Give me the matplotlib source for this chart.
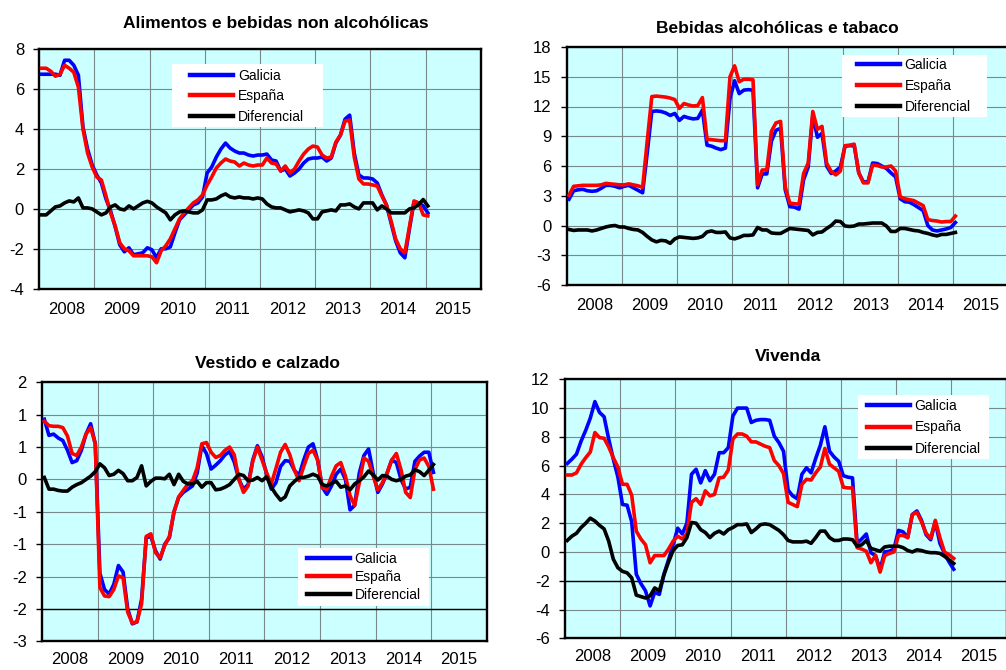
import numpy as np
import matplotlib
matplotlib.use('Agg')
import matplotlib.pyplot as plt
from matplotlib.patches import Rectangle
from matplotlib.ticker import FuncFormatter

plt.rcParams['font.family'] = ['Liberation Sans', 'DejaVu Sans']

years = ['2008', '2009', '2010', '2011', '2012', '2013', '2014', '2015']
names = ['Galicia', 'España', 'Diferencial']

# monthly series, Jan 2008 .. Jan 2015
alim_gal = [6.75, 6.75, 6.75, 6.75, 6.7, 7.45, 7.45, 7.2, 6.7, 4.1,
            3.0, 2.2, 1.7, 1.3, 0.5, -0.1, -0.9, -1.8, -2.15, -1.95,
            -2.3, -2.25, -2.2, -1.95, -2.05, -2.45, -2.0, -2.0, -1.9, -1.2,
            -0.55, -0.3, -0.05, 0.2, 0.3, 0.6, 1.8, 2.1, 2.6, 3.0,
            3.3, 3.05, 2.9, 2.8, 2.8, 2.7, 2.65, 2.7, 2.7, 2.75,
            2.45, 2.4, 1.9, 2.0, 1.65, 1.8, 2.0, 2.3, 2.5, 2.55,
            2.55, 2.6, 2.4, 2.55, 3.3, 3.7, 4.5, 4.7, 2.8, 1.7,
            1.55, 1.55, 1.5, 1.3, 0.7, 0.2, -0.7, -1.6, -2.2, -2.45,
            -1.0, 0.35, 0.3, 0.15, -0.2]
alim_esp = [7.05, 7.05, 6.9, 6.65, 6.75, 7.2, 7.05, 6.85, 6.1, 4.0,
            2.8, 2.1, 1.6, 1.45, 0.65, -0.2, -0.85, -1.7, -2.0, -2.1,
            -2.35, -2.35, -2.35, -2.35, -2.4, -2.7, -2.1, -1.85, -1.5, -1.0,
            -0.5, -0.2, 0.05, 0.3, 0.45, 0.7, 1.2, 1.6, 2.05, 2.3,
            2.5, 2.4, 2.35, 2.15, 2.3, 2.2, 2.15, 2.2, 2.2, 2.55,
            2.3, 2.25, 1.9, 2.15, 1.8, 2.0, 2.4, 2.75, 3.0, 3.15,
            3.1, 2.7, 2.55, 2.6, 3.35, 3.7, 4.4, 4.45, 2.6, 1.5,
            1.25, 1.25, 1.2, 1.15, 0.65, 0.2, -0.6, -1.5, -2.0, -2.2,
            -0.9, 0.4, 0.3, -0.3, -0.35]
alim_dif = [-0.3, -0.3, -0.1, 0.1, 0.15, 0.3, 0.4, 0.35, 0.55, 0.05,
            0.05, 0.0, -0.15, -0.3, -0.2, 0.1, 0.2, 0.0, -0.05, 0.15,
            0.0, 0.15, 0.3, 0.38, 0.3, 0.1, -0.05, -0.2, -0.55, -0.3,
            -0.15, -0.1, -0.15, -0.2, -0.2, -0.05, 0.45, 0.45, 0.5, 0.65,
            0.75, 0.6, 0.55, 0.6, 0.55, 0.55, 0.5, 0.55, 0.5, 0.25,
            0.1, 0.05, 0.05, -0.05, -0.15, -0.1, -0.05, -0.1, -0.2, -0.5,
            -0.5, -0.15, -0.1, -0.05, -0.1, 0.2, 0.2, 0.25, 0.1, 0.0,
            0.3, 0.3, 0.3, -0.05, 0.15, 0.0, -0.2, -0.2, -0.2, -0.2,
            0.0, 0.05, 0.22, 0.47, 0.15]

beb_gal = [2.65, 3.5, 3.6, 3.65, 3.5, 3.45, 3.5, 3.75, 4.05, 4.05,
           3.95, 3.8, 3.95, 4.05, 3.8, 3.55, 3.3, 7.3, 11.5, 11.55,
           11.5, 11.35, 11.1, 11.3, 10.6, 11.0, 10.85, 10.75, 10.8, 11.65,
           8.1, 8.0, 7.8, 7.65, 7.8, 12.8, 14.6, 13.3, 13.65, 13.7,
           13.65, 3.8, 5.2, 5.2, 8.5, 9.6, 9.8, 3.6, 1.9, 1.85,
           1.65, 4.6, 5.9, 11.1, 8.9, 9.3, 6.0, 5.25, 5.5, 5.9,
           8.0, 8.05, 8.05, 5.3, 4.4, 4.4, 6.3, 6.25, 6.0, 5.75,
           5.3, 4.9, 2.7, 2.4, 2.35, 2.1, 1.8, 1.5, 0.0, -0.45,
           -0.55, -0.45, -0.35, -0.2, 0.3]
beb_esp = [3.05, 3.95, 4.0, 4.05, 4.05, 4.05, 4.05, 4.1, 4.25, 4.2,
           4.15, 4.1, 4.1, 4.2, 4.1, 4.0, 3.85, 8.5, 13.0, 13.05,
           13.0, 12.95, 12.85, 12.7, 11.8, 12.3, 12.15, 12.05, 12.1, 12.9,
           8.7, 8.65, 8.6, 8.55, 8.55, 15.0, 16.1, 14.5, 14.75, 14.75,
           14.7, 4.1, 5.6, 5.6, 9.5, 10.35, 10.5, 3.9, 2.25, 2.2,
           2.15, 5.25, 6.3, 11.5, 9.7, 10.0, 6.3, 5.45, 5.1, 5.5,
           8.05, 8.1, 8.2, 5.3, 4.3, 4.3, 6.1, 6.05, 5.9, 5.9,
           6.0, 5.5, 2.9, 2.7, 2.6, 2.5, 2.25, 2.0, 0.6, 0.5,
           0.45, 0.35, 0.4, 0.4, 0.95]
beb_dif = [-0.4, -0.5, -0.45, -0.45, -0.45, -0.55, -0.45, -0.3, -0.15, -0.05,
           0.0, -0.15, -0.15, -0.3, -0.4, -0.45, -0.7, -1.1, -1.45, -1.65,
           -1.5, -1.55, -1.8, -1.35, -1.15, -1.2, -1.25, -1.3, -1.25, -1.1,
           -0.65, -0.55, -0.7, -0.7, -0.65, -1.25, -1.35, -1.2, -1.0, -1.0,
           -0.95, -0.2, -0.45, -0.45, -0.75, -0.8, -0.8, -0.55, -0.3, -0.35,
           -0.4, -0.45, -0.5, -0.95, -0.7, -0.65, -0.3, 0.0, 0.45, 0.4,
           -0.05, -0.1, -0.05, 0.15, 0.15, 0.2, 0.25, 0.25, 0.25, -0.05,
           -0.6, -0.6, -0.3, -0.3, -0.4, -0.5, -0.55, -0.7, -0.8, -0.95,
           -1.05, -0.9, -0.9, -0.8, -0.7]

vest_gal = [0.93, 0.68, 0.7, 0.64, 0.6, 0.45, 0.26, 0.29, 0.45, 0.7,
            0.86, 0.55, -1.45, -1.7, -1.77, -1.62, -1.33, -1.43, -2.0, -2.23,
            -2.2, -1.85, -0.9, -0.88, -1.1, -1.23, -1.0, -0.9, -0.5, -0.28,
            -0.2, -0.15, -0.1, 0.1, 0.52, 0.4, 0.16, 0.22, 0.29, 0.38,
            0.43, 0.27, 0.0, -0.15, -0.08, 0.3, 0.52, 0.35, 0.08, -0.15,
            -0.05, 0.2, 0.29, 0.28, 0.14, 0.06, 0.3, 0.5, 0.55, 0.3,
            -0.12, -0.23, -0.1, 0.08, 0.16, 0.0, -0.47, -0.4, 0.1, 0.37,
            0.47, 0.1, -0.2, -0.07, 0.1, 0.3, 0.26, 0.0, -0.15, -0.12,
            0.28, 0.36, 0.42, 0.42, 0.11]
vest_esp = [0.9, 0.83, 0.82, 0.82, 0.8, 0.67, 0.4, 0.37, 0.5, 0.7,
            0.8, 0.55, -1.67, -1.8, -1.81, -1.7, -1.49, -1.52, -2.05, -2.22,
            -2.2, -1.92, -0.88, -0.84, -1.13, -1.21, -1.02, -0.88, -0.5, -0.27,
            -0.17, -0.07, -0.02, 0.18, 0.55, 0.57, 0.42, 0.34, 0.37, 0.45,
            0.5, 0.38, 0.0, -0.2, -0.1, 0.28, 0.5, 0.3, 0.1, -0.07,
            0.17, 0.42, 0.54, 0.38, 0.14, -0.02, 0.2, 0.4, 0.45, 0.3,
            -0.13, -0.15, 0.05, 0.21, 0.26, 0.05, -0.25, -0.4, -0.05, 0.33,
            0.28, 0.05, -0.16, -0.05, 0.1, 0.3, 0.4, 0.15, -0.2, -0.28,
            0.15, 0.3, 0.33, 0.2, -0.15]
vest_dif = [0.03, -0.15, -0.15, -0.17, -0.18, -0.18, -0.12, -0.08, -0.05, 0.0,
            0.05, 0.12, 0.24, 0.18, 0.06, 0.08, 0.14, 0.09, -0.02, -0.02,
            0.03, 0.21, -0.1, -0.03, 0.02, 0.02, 0.01, 0.08, -0.08, 0.08,
            -0.03, -0.07, -0.07, -0.03, -0.12, -0.05, -0.05, -0.16, -0.15, -0.12,
            -0.08, 0.0, 0.08, 0.06, -0.02, -0.01, 0.03, -0.02, 0.04, -0.12,
            -0.23, -0.32, -0.27, -0.1, -0.03, 0.03, 0.03, 0.05, 0.08, 0.05,
            -0.08, -0.1, -0.06, -0.03, -0.12, -0.1, -0.16, -0.07, -0.02, 0.04,
            0.13, 0.07, -0.01, 0.06, 0.05, 0.0, -0.02, 0.0, 0.05, 0.07,
            0.15, 0.12, 0.06, 0.14, 0.23]

viv_gal = [6.15, 6.45, 6.8, 7.7, 8.45, 9.3, 10.45, 9.7, 9.4, 7.85,
           6.45, 5.2, 3.3, 3.25, 2.1, -1.55, -2.2, -2.7, -3.75, -2.8,
           -2.95, -1.55, -0.55, 0.5, 1.65, 1.25, 2.0, 5.4, 5.75, 4.8,
           5.65, 4.95, 5.4, 6.9, 6.9, 7.25, 9.45, 10.0, 10.0, 10.0,
           9.0, 9.15, 9.2, 9.2, 9.15, 8.05, 7.6, 7.0, 4.3, 3.9,
           3.7, 5.4, 5.85, 5.5, 6.5, 7.4, 8.7, 7.0, 6.6, 6.3,
           5.3, 5.2, 5.15, 0.6, 0.9, 1.25, -0.05, -0.25, -1.2, 0.0,
           0.05, 0.2, 1.5, 1.4, 1.0, 2.6, 2.85, 2.2, 1.2, 0.85,
           2.1, 0.6, -0.1, -0.7, -1.2]
viv_esp = [5.35, 5.35, 5.5, 6.1, 6.55, 6.95, 8.3, 7.95, 7.9, 7.3,
           6.55, 5.9, 4.7, 4.7, 3.95, 1.45, 0.9, 0.5, -0.75, -0.25,
           -0.25, -0.25, 0.2, 0.75, 1.1, 0.9, 1.25, 3.45, 3.7, 3.3,
           4.25, 3.9, 4.0, 5.15, 5.2, 5.7, 7.85, 8.2, 8.2, 8.05,
           7.65, 7.65, 7.5, 7.35, 7.25, 6.35, 6.0, 5.45, 3.45, 3.3,
           3.15, 4.7, 5.05, 5.0, 5.5, 5.9, 7.2, 6.1, 5.85, 5.6,
           4.5, 4.45, 4.45, 0.3, 0.2, 0.05, -0.75, -0.25, -1.4, -0.25,
           -0.1, 0.0, 1.15, 1.15, 1.0, 2.6, 2.75, 2.1, 1.3, 0.95,
           2.2, 1.0, 0.0, -0.2, -0.45]
viv_dif = [0.8, 1.1, 1.3, 1.7, 2.0, 2.35, 2.15, 1.85, 1.6, 0.75,
           -0.5, -1.1, -1.35, -1.45, -1.8, -3.0, -3.1, -3.2, -3.05, -2.5,
           -2.7, -1.6, -0.7, 0.1, 0.45, 0.5, 1.0, 2.05, 2.0, 1.55,
           1.35, 1.0, 1.3, 1.45, 1.25, 1.55, 1.7, 1.9, 1.9, 1.95,
           1.35, 1.6, 1.9, 1.95, 1.9, 1.7, 1.5, 1.2, 0.8, 0.7,
           0.7, 0.7, 0.75, 0.6, 1.0, 1.45, 1.45, 1.0, 0.8, 0.8,
           0.9, 0.9, 0.85, 0.4, 0.5, 0.8, 0.25, 0.15, 0.05, 0.35,
           0.4, 0.4, 0.4, 0.3, 0.1, 0.0, 0.15, 0.1, 0.0, -0.05,
           -0.05, -0.1, -0.3, -0.55, -0.8]

W, H = 1006, 670
fig = plt.figure(figsize=(W / 100, H / 100), dpi=100, facecolor='white')


def fx(x):
    return x / W


def fy(y):
    return 1 - y / H


# tick labels rounded to whole numbers, halves away from zero
def whole(v, pos):
    return '%d' % (np.sign(v) * np.floor(abs(v) + 0.5))


def panel(box, title, title_xy, gal, esp, dif, ylo, yhi, ystep,
          leg_box, leg_x, leg_cy, leg_sp, xpad, base=None):
    x0, y0, x1, y1 = box
    ax = fig.add_axes([fx(x0), fy(y1), (x1 - x0) / W, (y1 - y0) / H])
    ax.set_facecolor('#ccffff')
    x = np.arange(len(gal)) + 0.5
    ax.plot(x, gal, color='#0000ff', lw=2.6, label=names[0], zorder=3)
    ax.plot(x, esp, color='#ff0000', lw=2.6, label=names[1], zorder=3)
    ax.plot(x, dif, color='black', lw=2.6, label=names[2], zorder=3)
    if base is not None:
        ax.axhline(base, color='black', lw=1.0, zorder=2)

    ax.set_xlim(0, 96)
    ax.set_ylim(ylo, yhi)
    ax.set_yticks(np.arange(ylo, yhi + ystep / 2, ystep))
    ax.yaxis.set_major_formatter(FuncFormatter(whole))
    ax.set_xticks(np.arange(12, 96, 12))
    ax.set_xticks(np.arange(6, 96, 12), minor=True)
    ax.set_xticklabels([])
    ax.set_xticklabels(years, minor=True)
    ax.grid(True, which='major', color='#7a8a8a', lw=0.8, zorder=1)
    ax.set_axisbelow(True)
    ax.tick_params(axis='y', direction='out', length=4, width=1, pad=7,
                   labelsize=12, colors='black')
    ax.tick_params(axis='x', which='both', length=0, pad=xpad, labelsize=12)
    for s in ax.spines.values():
        s.set_linewidth(1.7)
        s.set_color('black')

    fig.text(fx(title_xy[0]), fy(title_xy[1]), title, ha='center',
             va='center', fontsize=12.5, fontweight='bold')

    bx0, by0, bx1, by1 = leg_box
    ax.add_patch(Rectangle((fx(bx0), fy(by1)), (bx1 - bx0) / W,
                           (by1 - by0) / H, transform=fig.transFigure,
                           facecolor='white', edgecolor='none', zorder=4,
                           clip_on=False))
    leg = ax.legend(loc='center left', bbox_to_anchor=(fx(leg_x), fy(leg_cy)),
                    bbox_transform=fig.transFigure, frameon=False,
                    borderpad=0, borderaxespad=0, handlelength=3.1,
                    handletextpad=0.35, labelspacing=leg_sp, fontsize=10)
    leg.set_zorder(5)
    for ln in leg.get_lines():
        ln.set_linewidth(3.2)
    return ax


panel((39.3, 49.3, 480.7, 288.7), 'Alimentos e bebidas non alcohólicas',
      (276, 23.5), alim_gal, alim_esp, alim_dif, -4, 8, 2,
      (171.7, 64, 322.7, 127.3), 190, 96.3, 0.47, 9.5)
panel((566.7, 47, 1008.3, 285), 'Bebidas alcohólicas e tabaco',
      (777, 28.5), beb_gal, beb_esp, beb_dif, -6, 18, 3,
      (841.7, 55, 986.7, 116.7), 856.7, 86, 0.49, 9.5)
panel((42, 382.3, 486.7, 641.3), 'Vestido e calzado',
      (267, 363.5), vest_gal, vest_esp, vest_dif, -2.5, 1.5, 0.5,
      (297.7, 548.3, 429, 605.7), 306.7, 577.3, 0.29, 7.5, base=-2)
panel((565, 379.3, 1006.6, 638.3), 'Vivenda',
      (788, 356.5), viv_gal, viv_esp, viv_dif, -6, 12, 2,
      (858, 395, 989, 459), 866.7, 427.5, 0.56, 7.5, base=-2)

fig.savefig('out.png', dpi=100, facecolor=fig.get_facecolor())
